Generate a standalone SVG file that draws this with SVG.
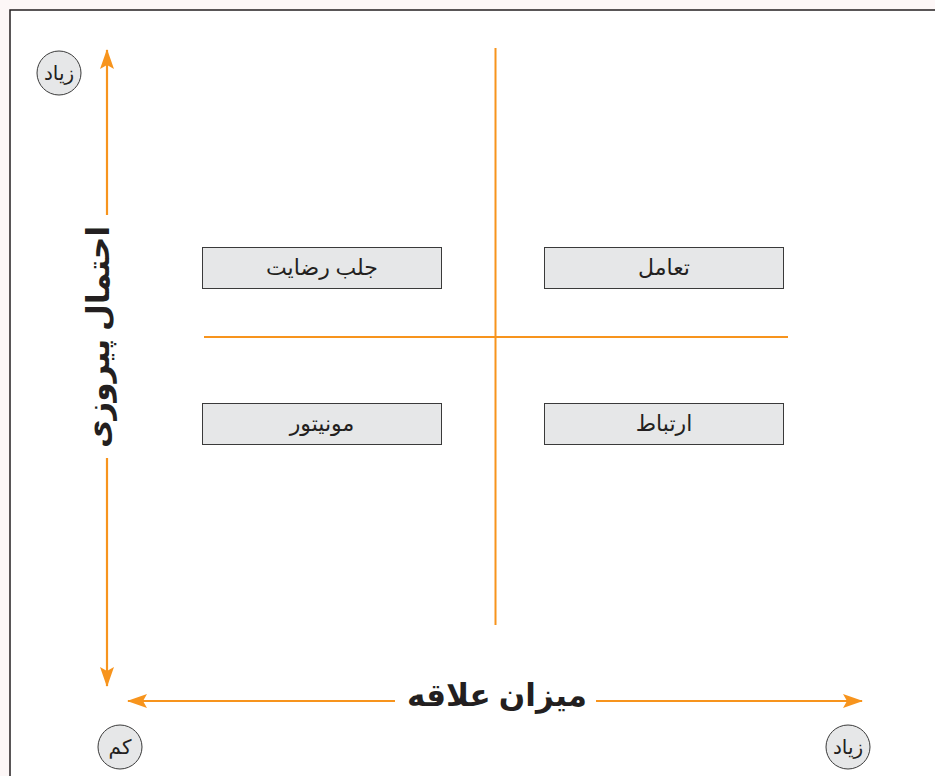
<svg xmlns="http://www.w3.org/2000/svg" width="935" height="776" viewBox="0 0 935 776">
  <style>
    .axis { stroke: #f7941d; stroke-width: 2.2; fill: none; }
    .grid { stroke: #f7941d; stroke-width: 2; fill: none; }
    .box { fill: #e6e7e8; stroke: #3a3a3a; stroke-width: 1; }
    .box-text { font-family: "Noto Sans", "DejaVu Sans", sans-serif; font-size: 22px; fill: #231f20; text-anchor: middle; }
    .badge { fill: #e6e7e8; stroke: #3a3a3a; stroke-width: 1; }
    .badge-text { font-family: "Noto Sans", "DejaVu Sans", sans-serif; font-size: 20px; fill: #231f20; text-anchor: middle; }
    .axis-title { font-family: "Noto Sans", "DejaVu Sans", sans-serif; font-size: 31px; font-weight: bold; fill: #231f20; text-anchor: middle; }
  </style>
  <defs>
    <marker id="arrow" viewBox="0 0 20 14" refX="19" refY="7" markerWidth="20" markerHeight="14" markerUnits="userSpaceOnUse" orient="auto">
      <path d="M0,0 L20,7 L0,14 L4,7 Z" fill="#f7941d"/>
    </marker>
  </defs>

  <!-- page background and frame -->
  <rect x="0" y="0" width="935" height="776" fill="#fdf7f7"/>
  <rect x="10" y="10" width="940" height="780" fill="#ffffff" stroke="#231f20" stroke-width="1.5"/>

  <!-- connectors: axes and quadrant divider -->
  <g id="connectors">
    <line class="axis" x1="107" y1="215" x2="107" y2="50" marker-end="url(#arrow)"/>
    <line class="axis" x1="107" y1="458" x2="107" y2="686" marker-end="url(#arrow)"/>
    <line class="axis" x1="395" y1="701" x2="128" y2="701" marker-end="url(#arrow)"/>
    <line class="axis" x1="596" y1="701" x2="862" y2="701" marker-end="url(#arrow)"/>
    <line class="grid" x1="495.5" y1="48" x2="495.5" y2="625"/>
    <line class="grid" x1="204" y1="337" x2="788" y2="337"/>
  </g>

  <!-- axis titles -->
  <g id="y-axis-title">
    <text class="axis-title" transform="translate(109,337) rotate(-90)">احتمال پیروزی</text>
  </g>
  <g id="x-axis-title">
    <text class="axis-title" x="497" y="706">میزان علاقه</text>
  </g>

  <!-- scale badges -->
  <g id="badge-y-high">
    <circle class="badge" cx="59" cy="73" r="22"/>
    <text class="badge-text" x="59" y="80">زیاد</text>
  </g>
  <g id="badge-low">
    <circle class="badge" cx="120" cy="747" r="22"/>
    <text class="badge-text" x="120" y="754">کم</text>
  </g>
  <g id="badge-x-high">
    <circle class="badge" cx="848" cy="747" r="22"/>
    <text class="badge-text" x="848" y="754">زیاد</text>
  </g>

  <!-- quadrant boxes -->
  <g id="satisfy">
    <rect class="box" x="202.5" y="247.5" width="239" height="41"/>
    <text class="box-text" x="322" y="275">جلب رضایت</text>
  </g>
  <g id="engage">
    <rect class="box" x="544.5" y="247.5" width="239" height="41"/>
    <text class="box-text" x="664" y="275">تعامل</text>
  </g>
  <g id="monitor">
    <rect class="box" x="202.5" y="403.5" width="239" height="41"/>
    <text class="box-text" x="322" y="431">مونیتور</text>
  </g>
  <g id="communicate">
    <rect class="box" x="544.5" y="403.5" width="239" height="41"/>
    <text class="box-text" x="664" y="431">ارتباط</text>
  </g>
</svg>
